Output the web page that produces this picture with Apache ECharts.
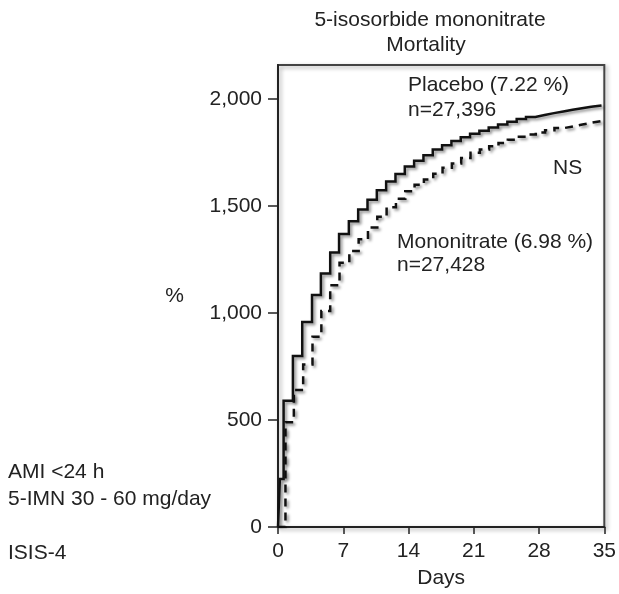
<!DOCTYPE html>
<html>
<head>
<meta charset="utf-8">
<script src="https://cdn.jsdelivr.net/npm/echarts@6/dist/echarts.min.js"></script>
<style>
html,body{margin:0;padding:0;background:#fff;}
#chart{width:619px;height:594px;}
</style>
</head>
<body>
<div id="chart"></div>
<script>
const xTicks = [0, 7, 14, 21, 28, 35];
const yTicks = [0, 500, 1000, 1500, 2000];

const placeboDays = [0, 0.2, 0.6, 1.6, 2.6, 3.65, 4.6, 5.6, 6.55, 7.6, 8.6, 9.6, 10.6, 11.6, 12.6, 13.6, 14.6, 15.6, 16.6, 17.6, 18.6, 19.6, 20.6, 21.6, 22.6, 23.6, 24.6, 25.6, 26.6, 27.6, 28.6, 29.6, 30.6, 31.6, 32.6, 33.6, 34.7];
const placeboValues = [0, 224, 590, 800, 958, 1085, 1185, 1283, 1370, 1430, 1485, 1530, 1575, 1615, 1650, 1685, 1712, 1738, 1765, 1785, 1805, 1822, 1838, 1853, 1868, 1882, 1895, 1907, 1917, 1926, 1935, 1943, 1951, 1958, 1965, 1971, 1971];

const mononitrateDays = [0, 0.8, 1.7, 2.7, 3.7, 4.65, 5.6, 6.6, 7.65, 8.65, 9.65, 10.65, 11.65, 12.65, 13.65, 14.65, 15.65, 16.65, 17.65, 18.65, 19.65, 20.65, 21.65, 22.65, 23.65, 24.65, 25.65, 26.65, 27.65, 28.65, 29.65, 30.65, 31.65, 32.65, 33.65, 34.7];
const mononitrateValues = [0, 490, 640, 760, 890, 1010, 1130, 1235, 1290, 1345, 1400, 1450, 1495, 1535, 1570, 1600, 1625, 1652, 1680, 1700, 1725, 1750, 1765, 1780, 1795, 1810, 1825, 1835, 1845, 1855, 1865, 1873, 1882, 1890, 1898, 1898];

const FONT = '"Liberation Sans", Arial, Helvetica, sans-serif';
const TXT = '#222';
const FS = 21;

function pairs(xs, ys) { return xs.map((x, i) => [x, ys[i]]); }

const chart = echarts.init(document.getElementById('chart'), null, {renderer: 'canvas'});

function txt(x, y, s, align) {
  return {type: 'text', x: x, y: y, style: {text: s, font: FS + 'px ' + FONT, fill: TXT, textAlign: align || 'left', textVerticalAlign: 'middle'}};
}

const shadow = {shadowBlur: 3, shadowColor: 'rgba(0,0,0,0.45)', shadowOffsetX: 2, shadowOffsetY: 2};

chart.setOption({
  animation: false,
  backgroundColor: '#fff',
  grid: {left: 278, right: 11, top: 65, bottom: 66, show: true, borderColor: '#444', borderWidth: 2,
         backgroundColor: 'transparent', shadowBlur: 4, shadowColor: 'rgba(0,0,0,0.35)', shadowOffsetX: 2, shadowOffsetY: 2},
  xAxis: {
    type: 'value', min: 0, max: 35, interval: 7,
    name: 'Days', nameLocation: 'middle', nameGap: 41,
    nameTextStyle: {fontFamily: FONT, fontSize: FS, color: TXT},
    axisLine: {show: true, onZero: false, lineStyle: {color: '#222', width: 2}},
    axisTick: {show: true, length: 7, lineStyle: {color: '#222', width: 1.5}, customValues: xTicks},
    axisLabel: {fontFamily: FONT, fontSize: FS, color: TXT, margin: 14, customValues: xTicks},
    splitLine: {show: false}
  },
  yAxis: {
    type: 'value', min: 0, max: 2160, interval: 500,
    name: '%', nameLocation: 'middle', nameGap: 94, nameRotate: 0,
    nameTextStyle: {fontFamily: FONT, fontSize: FS, color: TXT},
    axisLine: {show: true, onZero: false, lineStyle: {color: '#222', width: 2}},
    axisTick: {show: true, length: 10, lineStyle: {color: '#222', width: 1.5}, customValues: yTicks},
    axisLabel: {fontFamily: FONT, fontSize: FS, color: TXT, margin: 16, customValues: yTicks,
                formatter: v => Number(v).toLocaleString('en-US')},
    splitLine: {show: false}
  },
  series: [
    {type: 'line', name: 'Placebo', step: 'end', symbol: 'none', data: pairs(placeboDays, placeboValues),
     lineStyle: Object.assign({color: '#111', width: 2.5, type: 'solid', join: 'miter', cap: 'butt'}, shadow), z: 3},
    {type: 'line', name: 'Mononitrate', step: 'end', symbol: 'none', data: pairs(mononitrateDays, mononitrateValues),
     lineStyle: Object.assign({color: '#111', width: 2.5, type: [8, 6], join: 'miter', cap: 'butt'}, shadow), z: 2}
  ],
  graphic: [
    txt(430, 20, '5-isosorbide mononitrate', 'center'),
    txt(426, 45, 'Mortality', 'center'),
    txt(408, 85, 'Placebo (7.22 %)'),
    txt(408, 110, 'n=27,396'),
    txt(553, 168, 'NS'),
    txt(397, 242, 'Mononitrate (6.98 %)'),
    txt(397, 265, 'n=27,428'),
    txt(8, 472, 'AMI <24 h'),
    txt(8, 499, '5-IMN 30 - 60 mg/day'),
    txt(8, 553, 'ISIS-4')
  ]
});
</script>
</body>
</html>
